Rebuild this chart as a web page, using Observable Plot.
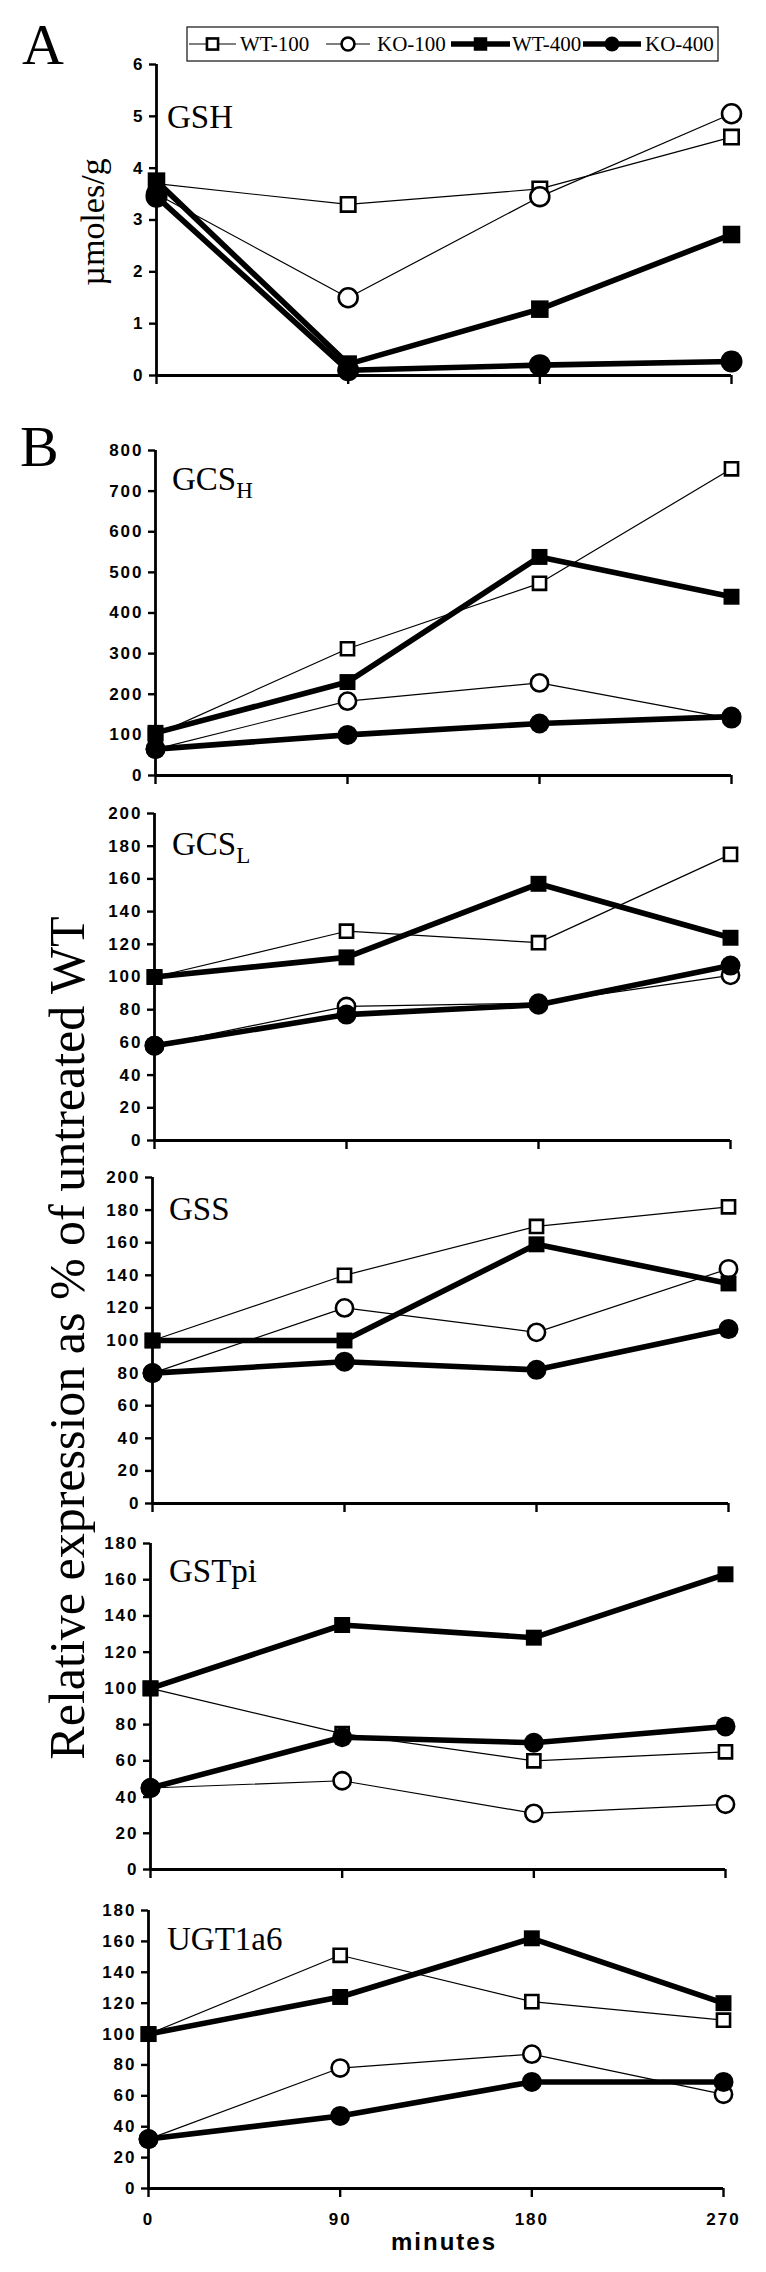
<!DOCTYPE html>
<html><head><meta charset="utf-8">
<script src="https://cdn.jsdelivr.net/npm/d3@7"></script>
<script src="https://cdn.jsdelivr.net/npm/@observablehq/plot@0.6"></script>
<style>
body{margin:0;background:#fff;}
#root{position:relative;width:766px;height:2272px;overflow:hidden;background:#fff}
.panel{position:absolute;left:0;overflow:visible}
.panel text{letter-spacing:2px}
#overlay{position:absolute;left:0;top:0;pointer-events:none}
</style></head><body><div id="root"></div>
<script>
// ---- data ----
const minutes = [0, 90, 180, 270];
const seriesNames = ["WT-100", "KO-100", "WT-400", "KO-400"];

const gshWT100 = [3.7, 3.3, 3.6, 4.6];
const gshKO100 = [3.5, 1.5, 3.45, 5.05];
const gshWT400 = [3.75, 0.22, 1.28, 2.72];
const gshKO400 = [3.45, 0.1, 0.2, 0.27];

const gcshWT100 = [100, 312, 473, 755];
const gcshKO100 = [65, 183, 228, 140];
const gcshWT400 = [105, 230, 538, 440];
const gcshKO400 = [65, 100, 128, 145];

const gcslWT100 = [100, 128, 121, 175];
const gcslKO100 = [58, 82, 84, 101];
const gcslWT400 = [100, 112, 157, 124];
const gcslKO400 = [58, 77, 83, 107];

const gssWT100 = [100, 140, 170, 182];
const gssKO100 = [80, 120, 105, 144];
const gssWT400 = [100, 100, 159, 135];
const gssKO400 = [80, 87, 82, 107];

const gstWT100 = [100, 75, 60, 65];
const gstKO100 = [45, 49, 31, 36];
const gstWT400 = [100, 135, 128, 163];
const gstKO400 = [45, 73, 70, 79];

const ugtWT100 = [100, 151, 121, 109];
const ugtKO100 = [32, 78, 87, 61];
const ugtWT400 = [100, 124, 162, 120];
const ugtKO400 = [32, 47, 69, 69];

const panelNames = ["GSH", "GCS_H", "GCS_L", "GSS", "GSTpi", "UGT1a6"];
const panelMax = [6, 800, 200, 200, 180, 180];
const panelStep = [1, 100, 20, 20, 20, 20];
const panelSeries = [
  [gshWT100, gshKO100, gshWT400, gshKO400],
  [gcshWT100, gcshKO100, gcshWT400, gcshKO400],
  [gcslWT100, gcslKO100, gcslWT400, gcslKO400],
  [gssWT100, gssKO100, gssWT400, gssKO400],
  [gstWT100, gstKO100, gstWT400, gstKO400],
  [ugtWT100, ugtKO100, ugtWT400, ugtKO400]
];

// ---- layout (page pixels) ----
const layout = [
  {x0: 156, x1: 731, yTop: 64,   yBot: 375},
  {x0: 155, x1: 731, yTop: 450,  yBot: 775},
  {x0: 154, x1: 730, yTop: 813,  yBot: 1140},
  {x0: 152, x1: 728, yTop: 1177, yBot: 1503},
  {x0: 150, x1: 725, yTop: 1543, yBot: 1869},
  {x0: 148, x1: 723, yTop: 1910, yBot: 2188}
];

const styles = {
  "WT-100": {w: 1.2, symbol: "square", r: 7.4, fill: "white", sw: 2.6},
  "KO-100": {w: 1.2, symbol: "circle", r: 8.6, fill: "white", sw: 2.6},
  "WT-400": {w: 5.6, symbol: "square", r: 9, fill: "black", sw: 0},
  "KO-400": {w: 5.6, symbol: "circle", r: 10, fill: "black", sw: 0}
};

const sans = "'Liberation Sans', Arial, Helvetica, sans-serif";
const serif = "'Liberation Serif', 'Times New Roman', Times, serif";
const root = document.getElementById("root");

panelNames.forEach((pname, i) => {
  const L = layout[i];
  const last = i === panelNames.length - 1;
  const mt = 16, mb = last ? 80 : 16;
  const rows = [];
  seriesNames.forEach((s, k) => minutes.forEach((m, j) => rows.push({t: m, v: panelSeries[i][k][j], s})));
  const marks = [
    Plot.ruleX([0], {stroke: "#000", strokeWidth: 2.8}),
    Plot.ruleY([0], {stroke: "#000", strokeWidth: 2.8}),
    Plot.axisY({ticks: d3.range(0, panelMax[i] + 0.001, panelStep[i]), tickSize: 7, tickPadding: 5,
      tickFormat: d => String(d),
      fontSize: 17, fontWeight: "bold", fontFamily: sans, strokeWidth: 2.4, label: null}),
    Plot.axisX({ticks: minutes, tickSize: 9, tickPadding: 15, fontSize: 17, fontWeight: "bold",
      fontFamily: sans, strokeWidth: 2.4, label: null, tickFormat: last ? (d => String(d)) : (() => "")})
  ];
  seriesNames.forEach(s => {
    const st = styles[s];
    const d = rows.filter(r => r.s === s);
    marks.push(Plot.line(d, {x: "t", y: "v", stroke: "#000", strokeWidth: st.w}));
    marks.push(Plot.dot(d, {x: "t", y: "v", symbol: st.symbol, r: i === 0 ? st.r * 1.1 : st.r,
      fill: st.fill, stroke: "#000", strokeWidth: st.sw}));
  });
  if (last) {
    marks.push(Plot.text(["minutes"], {frameAnchor: "bottom", dy: 61, dx: 8, text: d => d,
      fontSize: 24, fontWeight: "bold", fontFamily: sans}));
  }
  const chart = Plot.plot({
    width: 766, height: (L.yBot - L.yTop) + mt + mb,
    marginLeft: L.x0, marginRight: 766 - L.x1, marginTop: mt, marginBottom: mb,
    style: {background: "transparent", overflow: "visible"},
    x: {domain: [0, 270], axis: null},
    y: {domain: [0, panelMax[i]], axis: null},
    marks
  });
  chart.classList.add("panel");
  chart.style.top = (L.yTop - mt) + "px";
  root.appendChild(chart);
});

// ---- overlay text: panel letters, gene labels, axis titles, legend ----
const ns = "http://www.w3.org/2000/svg";
const ov = document.createElementNS(ns, "svg");
ov.setAttribute("id", "overlay");
ov.setAttribute("width", 766);
ov.setAttribute("height", 2272);
root.appendChild(ov);
function txt(x, y, str, size, opts = {}) {
  const t = document.createElementNS(ns, "text");
  t.setAttribute("x", x); t.setAttribute("y", y);
  t.setAttribute("font-family", opts.family || serif);
  t.setAttribute("font-size", size);
  if (opts.weight) t.setAttribute("font-weight", opts.weight);
  if (opts.anchor) t.setAttribute("text-anchor", opts.anchor);
  if (opts.transform) t.setAttribute("transform", opts.transform);
  t.textContent = str;
  ov.appendChild(t);
  return t;
}
function subLabel(x, y, main, sub) {
  const t = txt(x, y, main, 33);
  const ts = document.createElementNS(ns, "tspan");
  ts.setAttribute("font-size", 23);
  ts.setAttribute("dy", 8);
  ts.textContent = sub;
  t.appendChild(ts);
}
txt(22, 64, "A", 58);
txt(20, 466, "B", 58);
const geneLabelPos = [[167, 128], [172, 490], [172, 855], [169, 1220], [169, 1582], [167, 1950]];
panelNames.forEach((p, i) => {
  const [x, y] = geneLabelPos[i];
  if (p.includes("_")) { const [a, b] = p.split("_"); subLabel(x, y, a, b); }
  else txt(x, y, p, 33);
});
txt(0, 0, "µmoles/g", 34, {anchor: "middle", transform: "translate(104,222) rotate(-90)"});
txt(0, 0, "Relative expression as % of untreated WT", 50, {anchor: "middle", transform: "translate(84,1338) rotate(-90)"});

// legend
const box = document.createElementNS(ns, "rect");
box.setAttribute("x", 187); box.setAttribute("y", 27);
box.setAttribute("width", 531); box.setAttribute("height", 34);
box.setAttribute("fill", "white"); box.setAttribute("stroke", "#222"); box.setAttribute("stroke-width", 1.3);
ov.appendChild(box);
const legendItems = [[189, 236, 240], [326, 370, 377], [451, 510, 512], [583, 641, 645]];
seriesNames.forEach((s, k) => {
  const [lx0, lx1, tx] = legendItems[k];
  const st = styles[s];
  const ln = document.createElementNS(ns, "line");
  ln.setAttribute("x1", lx0); ln.setAttribute("x2", lx1);
  ln.setAttribute("y1", 44); ln.setAttribute("y2", 44);
  ln.setAttribute("stroke", "#000"); ln.setAttribute("stroke-width", st.w);
  ov.appendChild(ln);
  const cx = (lx0 + lx1) / 2;
  let m;
  if (st.symbol === "square") {
    const side = st.r * 1.5;
    m = document.createElementNS(ns, "rect");
    m.setAttribute("x", cx - side / 2); m.setAttribute("y", 44 - side / 2);
    m.setAttribute("width", side); m.setAttribute("height", side);
  } else {
    m = document.createElementNS(ns, "circle");
    m.setAttribute("cx", cx); m.setAttribute("cy", 44); m.setAttribute("r", st.r * 0.75);
  }
  m.setAttribute("fill", st.fill); m.setAttribute("stroke", "#000"); m.setAttribute("stroke-width", st.sw);
  ov.appendChild(m);
  txt(tx, 51, s, 21);
});
</script></body></html>
